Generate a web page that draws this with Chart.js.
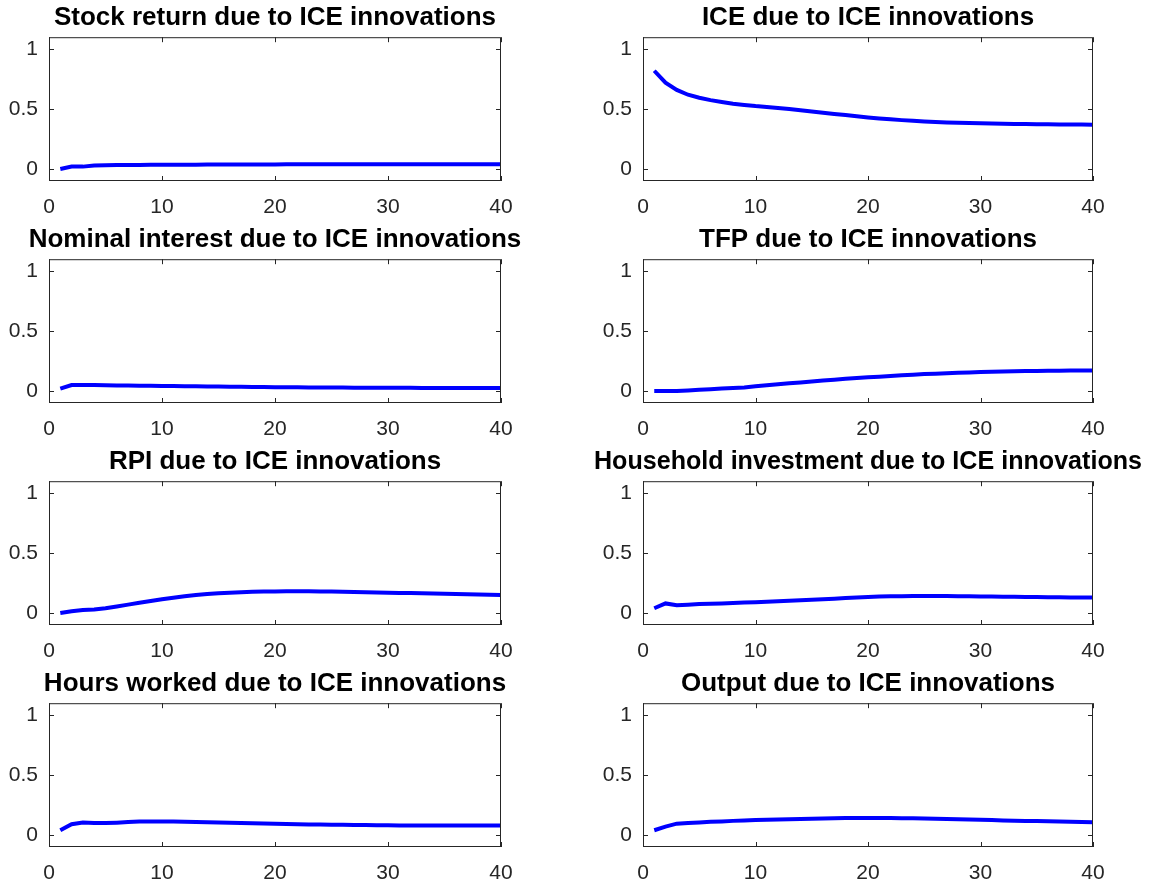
<!DOCTYPE html>
<html><head><meta charset="utf-8">
<script src="https://cdn.jsdelivr.net/npm/chart.js@4/dist/chart.umd.min.js"></script>
<style>body{margin:0;background:#fff;width:1167px;height:884px;position:relative;overflow:hidden}
.c{position:absolute}</style></head><body>
<script>
const periods = Array.from({length:40},(_,i)=>i+1);
const titles = ["Stock return due to ICE innovations","ICE due to ICE innovations","Nominal interest due to ICE innovations","TFP due to ICE innovations","RPI due to ICE innovations","Household investment due to ICE innovations","Hours worked due to ICE innovations","Output due to ICE innovations"];
const stockReturn=[0,0.02,0.02,0.03,0.032,0.033,0.034,0.034,0.035,0.035,0.036,0.036,0.036,0.037,0.037,0.037,0.038,0.038,0.038,0.038,0.039,0.039,0.039,0.039,0.039,0.04,0.04,0.04,0.04,0.04,0.04,0.04,0.04,0.04,0.04,0.04,0.04,0.04,0.04,0.04];
const ice=[0.82,0.72,0.66,0.62,0.595,0.575,0.56,0.545,0.535,0.525,0.518,0.51,0.5,0.49,0.48,0.47,0.46,0.45,0.44,0.43,0.422,0.415,0.408,0.402,0.397,0.393,0.389,0.386,0.383,0.381,0.379,0.377,0.376,0.375,0.374,0.373,0.372,0.371,0.371,0.37];
const nominal=[0.02,0.05,0.05,0.05,0.048,0.046,0.045,0.044,0.043,0.042,0.041,0.04,0.039,0.038,0.037,0.036,0.035,0.034,0.033,0.032,0.031,0.031,0.03,0.03,0.029,0.029,0.028,0.028,0.028,0.027,0.027,0.027,0.026,0.026,0.026,0.026,0.025,0.025,0.025,0.025];
const tfp=[0,0,0,0.005,0.01,0.015,0.02,0.025,0.03,0.04,0.048,0.056,0.064,0.072,0.08,0.088,0.095,0.102,0.108,0.114,0.12,0.126,0.131,0.136,0.141,0.145,0.149,0.152,0.155,0.158,0.161,0.163,0.165,0.167,0.168,0.169,0.17,0.171,0.172,0.172];
const rpi=[0,0.015,0.025,0.03,0.04,0.055,0.07,0.085,0.1,0.115,0.128,0.14,0.15,0.158,0.165,0.17,0.174,0.177,0.179,0.18,0.181,0.181,0.181,0.18,0.179,0.178,0.176,0.174,0.172,0.17,0.168,0.166,0.164,0.162,0.16,0.158,0.156,0.154,0.152,0.15];
const household=[0.04,0.08,0.065,0.07,0.075,0.078,0.08,0.083,0.087,0.09,0.094,0.098,0.102,0.106,0.11,0.115,0.12,0.125,0.13,0.134,0.137,0.139,0.14,0.141,0.141,0.141,0.141,0.14,0.139,0.138,0.137,0.136,0.135,0.134,0.133,0.132,0.131,0.13,0.13,0.13];
const hours=[0.04,0.09,0.105,0.1,0.1,0.103,0.108,0.112,0.113,0.113,0.112,0.11,0.108,0.106,0.104,0.102,0.1,0.098,0.096,0.094,0.092,0.09,0.088,0.087,0.086,0.085,0.084,0.083,0.082,0.081,0.08,0.08,0.08,0.08,0.08,0.08,0.08,0.08,0.08,0.08];
const output=[0.04,0.07,0.095,0.1,0.105,0.11,0.113,0.118,0.122,0.125,0.128,0.13,0.132,0.134,0.136,0.138,0.14,0.141,0.142,0.142,0.142,0.141,0.14,0.139,0.137,0.135,0.133,0.131,0.129,0.127,0.125,0.122,0.12,0.118,0.116,0.114,0.112,0.11,0.108,0.106];
const series=[stockReturn,ice,nominal,tfp,rpi,household,hours,output];
const xTicks=[0,10,20,30,40];
const yTicks=[0,0.5,1];

const YW=49, TOPH=35, XH=40, E=40;
const lefts=[49,643], widths=[452,450], tops=[37,259,481,703], PH=144;
const box={id:'box',afterDraw(c){const a=c.chartArea,x=c.ctx;x.save();x.strokeStyle='#262626';x.lineWidth=1;x.strokeRect(a.left+0.5,a.top+0.5,a.right-a.left-1,a.bottom-a.top-1);
 const sx=c.scales.x, sy=c.scales.y;
 xTicks.forEach(v=>{const p=Math.round(sx.getPixelForValue(v))+0.5;x.beginPath();x.moveTo(p,a.bottom);x.lineTo(p,a.bottom-5);x.moveTo(p,a.top);x.lineTo(p,a.top+5);x.stroke();});
 yTicks.forEach(v=>{const p=Math.round(sy.getPixelForValue(v))+0.5;x.beginPath();x.moveTo(a.left,p);x.lineTo(a.left+5,p);x.moveTo(a.right,p);x.lineTo(a.right-5,p);x.stroke();});
 x.restore();}};
Chart.defaults.font.family="'Liberation Sans', Arial, sans-serif";
series.forEach((d,i)=>{
 const col=i%2,row=Math.floor(i/2);
 const w=E+YW+widths[col]+YW+E, h=TOPH+PH+XH;
 const cv=document.createElement('canvas');cv.className='c';
 cv.style.left=(lefts[col]-YW-E)+'px';cv.style.top=(tops[row]-TOPH)+'px';
 cv.style.width=w+'px';cv.style.height=h+'px';cv.width=w;cv.height=h;
 document.body.appendChild(cv);
 new Chart(cv,{type:'line',data:{datasets:[{data:periods.map((p,k)=>({x:p,y:d[k]})),borderColor:'#0000ff',borderWidth:4,pointRadius:0,tension:0}]},
 options:{responsive:false,animation:false,devicePixelRatio:1,layout:{padding:{left:E,right:E,top:0,bottom:0}},
 plugins:{legend:{display:false},tooltip:{enabled:false},title:{display:true,text:titles[i],color:'#000',font:{size:26,weight:'bold'},padding:{top:0,bottom:4},fullSize:true}},
 scales:{x:{type:'linear',min:0,max:40,grid:{display:false},border:{display:false},
   afterBuildTicks:s=>{s.ticks=xTicks.map(v=>({value:v}))},afterFit:s=>{s.height=XH},
   ticks:{color:'#262626',font:{size:21},padding:6,maxRotation:0}},
  y:{min:-0.1,max:1.1,grid:{display:false},border:{display:false},
   afterBuildTicks:s=>{s.ticks=yTicks.map(v=>({value:v}))},afterFit:s=>{s.width=YW},
   ticks:{color:'#262626',font:{size:21},padding:3,callback:v=>String(v)}},
  yR:{position:'right',min:-0.1,max:1.1,grid:{display:false},border:{display:false},
   ticks:{display:false},afterFit:s=>{s.width=YW}}}},
 plugins:[box]});
});
</script></body></html>
